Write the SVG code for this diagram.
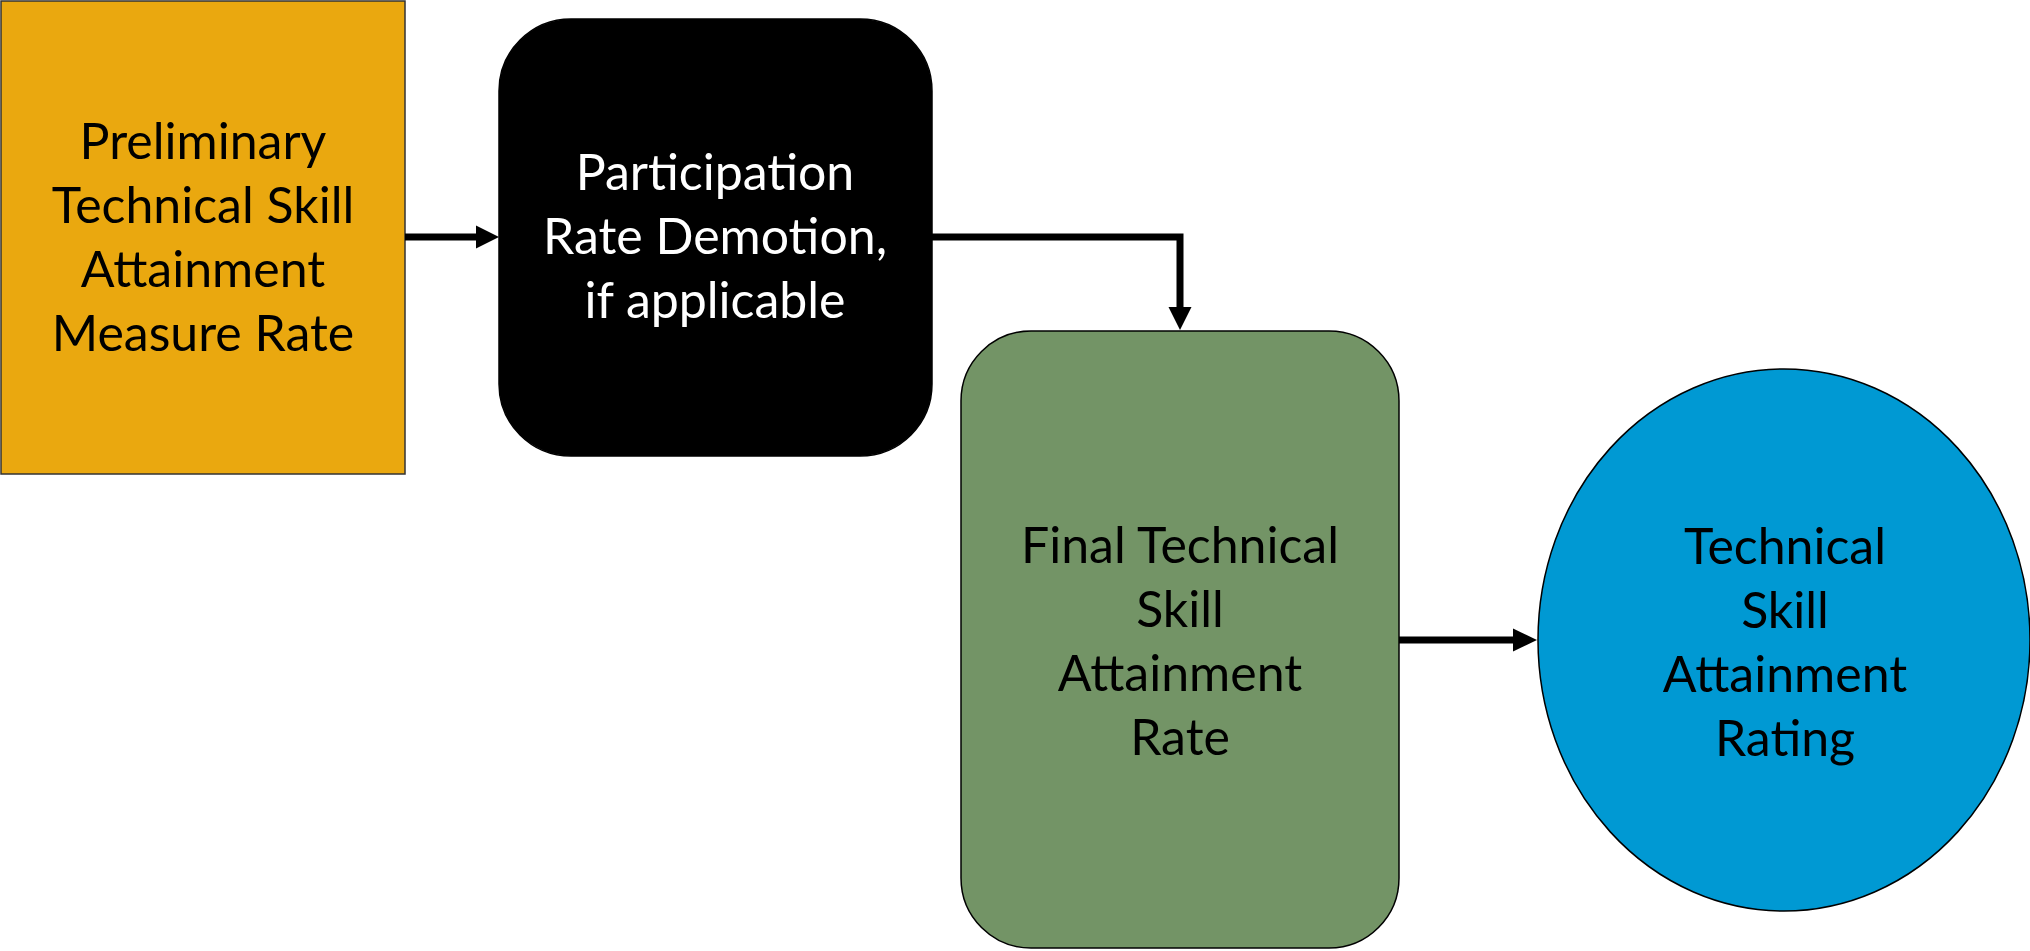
<svg xmlns="http://www.w3.org/2000/svg" width="2030" height="951" viewBox="0 0 2030 951">
<style>
  .lbl { font-family: Lato, "Source Sans Pro", "Noto Sans", sans-serif; font-size: 50px; text-anchor: middle; }
  .dark { fill: #000000; }
  .light { fill: #ffffff; }
  .conn { fill: none; stroke: #000000; stroke-width: 7; stroke-linejoin: miter; }
  .head { fill: #000000; stroke: none; }
</style>
<rect width="2030" height="951" fill="#ffffff"/>
<g id="node-preliminary">
  <rect x="1" y="1" width="404" height="473" fill="#EAA80F" stroke="#333333" stroke-width="1.5"/>
  <text class="lbl dark" x="203" y="159">Preliminary</text>
  <text class="lbl dark" x="203" y="223">Technical Skill</text>
  <text class="lbl dark" x="203" y="287">Attainment</text>
  <text class="lbl dark" x="203" y="351">Measure Rate</text>
</g>
<g id="node-participation">
  <rect x="499" y="19" width="433" height="437" rx="72" ry="72" fill="#000000" stroke="#000000" stroke-width="1.5"/>
  <text class="lbl light" x="715" y="190">Participation</text>
  <text class="lbl light" x="715" y="254">Rate Demotion,</text>
  <text class="lbl light" x="715" y="318">if applicable</text>
</g>
<g id="node-final">
  <rect x="961" y="331" width="438" height="617" rx="70" ry="70" fill="#739466" stroke="#000000" stroke-width="1.5"/>
  <text class="lbl dark" x="1180" y="563">Final Technical</text>
  <text class="lbl dark" x="1180" y="627">Skill</text>
  <text class="lbl dark" x="1180" y="691">Attainment</text>
  <text class="lbl dark" x="1180" y="755">Rate</text>
</g>
<g id="node-rating">
  <ellipse cx="1784" cy="640" rx="246" ry="271" fill="#0099D3" stroke="#000000" stroke-width="1.5"/>
  <text class="lbl dark" x="1785" y="564">Technical</text>
  <text class="lbl dark" x="1785" y="628">Skill</text>
  <text class="lbl dark" x="1785" y="692">Attainment</text>
  <text class="lbl dark" x="1785" y="756">Rating</text>
</g>
<g id="connectors">
  <path class="conn" d="M405,237 L478,237"/>
  <polygon class="head" points="476,225.5 499,237 476,248.5"/>
  <path class="conn" d="M932,237 L1180,237 L1180,309"/>
  <polygon class="head" points="1168.5,307 1191.5,307 1180,330"/>
  <path class="conn" d="M1399,640 L1515,640"/>
  <polygon class="head" points="1513,628.5 1537,640 1513,651.5"/>
</g>
</svg>
